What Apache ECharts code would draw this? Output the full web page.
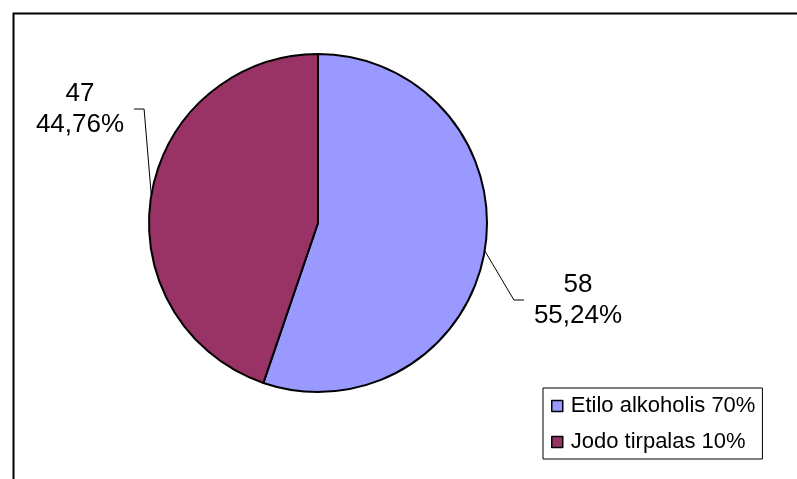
<!DOCTYPE html>
<html>
<head>
<meta charset="utf-8">
<script src="https://cdn.jsdelivr.net/npm/echarts@6/dist/echarts.min.js"></script>
<style>
    html, body { margin: 0; padding: 0; background: #fff; }
    #chart { width: 797px; height: 479px; }
</style>
</head>
<body>
<div id="chart"></div>
<script>
const categories = ['Etilo alkoholis 70%', 'Jodo tirpalas 10%']
const values = [58, 47]
const colors = ['#9999FF', '#993366']

// where each slice label sits (layout only)
const labelCenters = [[578, 300], [80, 109]]

const FONT = '"Liberation Sans", Arial, sans-serif'

const chart = echarts.init(document.getElementById('chart'))

chart.setOption({
    animation: false,
    backgroundColor: '#fff',
    graphic: [
        {
            type: 'rect',
            left: 11,
            top: 11,
            shape: { x: 0, y: 0, width: 820, height: 500 },
            style: { fill: 'none', stroke: '#000', lineWidth: 2 },
            silent: true,
        },
    ],
    legend: {
        orient: 'vertical',
        left: 543,
        top: 388,
        padding: [7, 7, 6, 8],
        itemGap: 14,
        itemWidth: 11,
        itemHeight: 11,
        icon: 'rect',
        itemStyle: { borderColor: '#000', borderWidth: 1.5 },
        textStyle: {
            fontFamily: FONT,
            fontSize: 22,
            lineHeight: 22,
            color: '#000',
            padding: [0, 0, 0, 3],
        },
        borderColor: '#000',
        borderWidth: 1,
        backgroundColor: '#fff',
        data: categories,
    },
    series: [
        {
            type: 'pie',
            center: [318, 223],
            radius: 169,
            startAngle: 90,
            clockwise: true,
            silent: true,
            itemStyle: { borderColor: '#000', borderWidth: 2 },
            label: {
                show: true,
                position: 'outside',
                fontFamily: FONT,
                fontSize: 26,
                lineHeight: 31,
                color: '#000',
                formatter: p => p.value + '\n' + p.percent.toFixed(2).replace('.', ',') + '%',
            },
            labelLine: {
                show: true,
                length: 20,
                length2: 10,
                lineStyle: { color: '#000', width: 1 },
            },
            labelLayout: params => {
                const c = labelCenters[params.dataIndex]
                const w = params.labelRect.width
                const start = params.labelLinePoints[0]
                const side = c[0] > start[0] ? 1 : -1
                const edgeX = c[0] - side * (w / 2 + 10)
                const bendX = edgeX - side * 10
                return {
                    x: c[0],
                    y: c[1],
                    align: 'center',
                    verticalAlign: 'middle',
                    labelLinePoints: [start, [bendX, c[1]], [edgeX, c[1]]],
                }
            },
            data: categories.map((name, i) => ({
                name,
                value: values[i],
                itemStyle: { color: colors[i] },
            })),
        },
    ],
})
</script>
</body>
</html>
